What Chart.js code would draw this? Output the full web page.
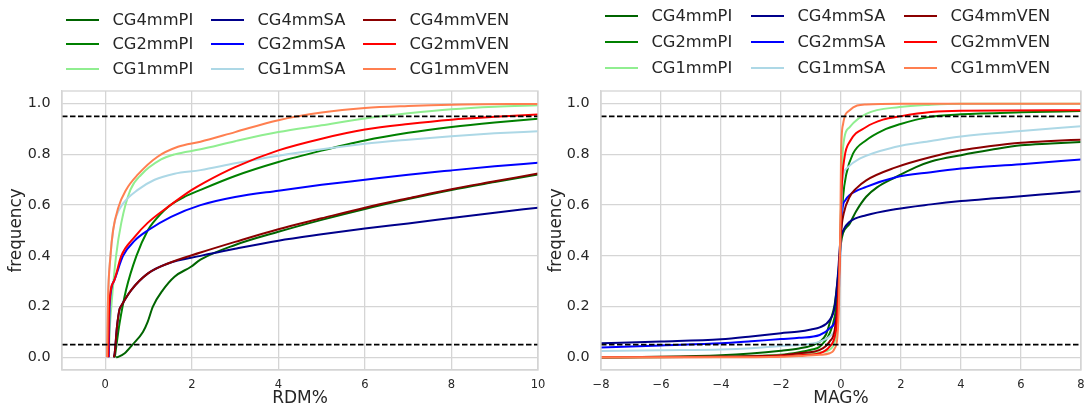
<!DOCTYPE html>
<html>
<head>
<meta charset="utf-8">
<script src="https://cdn.jsdelivr.net/npm/chart.js@4/dist/chart.umd.min.js"></script>
<style>
  body { margin: 0; width: 1091px; height: 413px; background: #fff; position: relative; overflow: hidden; font-family: 'DejaVu Sans', sans-serif; }
  .wrap { position: absolute; top: 0; height: 413px; }
  .leg-item { position: absolute; display: flex; align-items: center; height: 20px; white-space: nowrap; }
  .leg-line { width: 33px; height: 2px; }
  .leg-text { position: absolute; font-size: 16.3px; color: #262626; line-height: 20px; }
</style>
</head>
<body>
<div class="wrap" style="left:0;width:545px"><canvas id="rdmChart" width="545" height="413"></canvas></div>
<div class="wrap" style="left:545px;width:546px"><canvas id="magChart" width="546" height="413"></canvas></div>
<div id="legends"></div>
<script>
// series names and colours, in plotting order
const seriesNames = ['CG4mmPI', 'CG2mmPI', 'CG1mmPI', 'CG4mmSA', 'CG2mmSA', 'CG1mmSA', 'CG4mmVEN', 'CG2mmVEN', 'CG1mmVEN'];
const seriesColors = ['#006400', '#008000', '#90ee90', '#00008b', '#0000ff', '#add8e6', '#8b0000', '#ff0000', '#ff7f50'];

// reference lines
const hLines = [0.05, 0.95];

// tick labels
const yTicks = [0, 0.2, 0.4, 0.6, 0.8, 1.0];
const yTickLabels = ['0.0', '0.2', '0.4', '0.6', '0.8', '1.0'];
const rdmXTicks = [0, 2, 4, 6, 8, 10];
const rdmXTickLabels = ['0', '2', '4', '6', '8', '10'];
const magXTicks = [-8, -6, -4, -2, 0, 2, 4, 6, 8];
const magXTickLabels = ['\u22128', '\u22126', '\u22124', '\u22122', '0', '2', '4', '6', '8'];

// RDM% cumulative frequency, [x, y]
const rdm_CG4mmPI = [[0.25,0],[0.3,0.002],[0.45,0.016],[0.63,0.05],[0.87,0.1],[0.98,0.14],[1.1,0.2],[1.33,0.265],[1.6,0.318],[1.98,0.357],[2.2,0.385],[3,0.443],[4,0.495],[5,0.542],[6,0.585],[7,0.624],[8,0.66],[9,0.691],[10,0.721]];
const rdm_CG2mmPI = [[0.22,0],[0.3,0.1],[0.33,0.134],[0.48,0.265],[0.72,0.4],[0.98,0.5],[1.1,0.53],[1.45,0.593],[1.8,0.63],[2.2,0.66],[3,0.715],[4,0.77],[5,0.815],[6,0.855],[7,0.885],[8,0.908],[9,0.926],[10,0.941]];
const rdm_CG1mmPI = [[0.08,0],[0.1,0.1],[0.14,0.2],[0.25,0.4],[0.37,0.53],[0.58,0.66],[0.83,0.72],[1.29,0.78],[1.6,0.8],[2.2,0.82],[3,0.852],[4,0.888],[5,0.915],[6,0.942],[7,0.962],[8,0.978],[9,0.988],[10,0.994]];
const rdm_CG4mmSA = [[0.2,0],[0.22,0.02],[0.27,0.12],[0.33,0.19],[0.36,0.2],[0.6,0.265],[0.98,0.33],[1.45,0.37],[2.2,0.4],[3,0.428],[4,0.46],[5,0.485],[6,0.508],[7,0.528],[8,0.549],[9,0.57],[10,0.59]];
const rdm_CG2mmSA = [[0.08,0],[0.1,0.2],[0.2,0.3],[0.41,0.4],[0.68,0.46],[0.98,0.5],[1.52,0.554],[2.2,0.6],[3,0.632],[4,0.657],[5,0.68],[6,0.7],[7,0.72],[8,0.737],[9,0.753],[10,0.767]];
const rdm_CG1mmSA = [[0.04,0],[0.05,0.1],[0.06,0.21],[0.12,0.4],[0.18,0.5],[0.25,0.554],[0.41,0.606],[0.75,0.66],[1.14,0.7],[1.6,0.724],[2.2,0.738],[3,0.765],[4,0.795],[5,0.82],[6,0.842],[7,0.858],[8,0.872],[9,0.883],[10,0.891]];
const rdm_CG4mmVEN = [[0.2,0],[0.22,0.02],[0.27,0.12],[0.33,0.19],[0.36,0.2],[0.6,0.265],[0.98,0.33],[1.45,0.37],[2.2,0.413],[3,0.455],[4,0.505],[5,0.548],[6,0.59],[7,0.627],[8,0.663],[9,0.694],[10,0.725]];
const rdm_CG2mmVEN = [[0.07,0],[0.09,0.2],[0.2,0.3],[0.37,0.4],[0.68,0.475],[0.98,0.53],[1.45,0.593],[2,0.66],[2.3,0.69],[3,0.75],[4,0.816],[5,0.862],[6,0.898],[7,0.92],[8,0.937],[9,0.948],[10,0.957]];
const rdm_CG1mmVEN = [[0.04,0],[0.05,0.1],[0.06,0.21],[0.12,0.4],[0.18,0.5],[0.3,0.59],[0.48,0.66],[0.75,0.72],[1.2,0.79],[1.68,0.83],[2.2,0.85],[3,0.888],[4,0.935],[5,0.965],[6,0.983],[7,0.991],[8,0.996],[10,0.999]];

// MAG% cumulative frequency, [x, y]
const mag_CG4mmPI = [[-8,0],[-6,0.002],[-4,0.008],[-3,0.015],[-2,0.026],[-1.4,0.035],[-1,0.045],[-0.7,0.062],[-0.5,0.09],[-0.38,0.134],[-0.21,0.21],[-0.1,0.318],[0,0.45],[0.07,0.49],[0.29,0.527],[0.5,0.575],[0.84,0.633],[1.2,0.67],[1.8,0.709],[2.5,0.75],[3,0.772],[4,0.797],[5,0.818],[6,0.836],[7,0.843],[8,0.849]];
const mag_CG2mmPI = [[-8,0],[-4,0.003],[-2,0.01],[-1.4,0.02],[-1,0.03],[-0.71,0.042],[-0.38,0.094],[-0.21,0.16],[-0.1,0.265],[-0.02,0.45],[0.07,0.633],[0.18,0.724],[0.4,0.803],[0.84,0.856],[1.4,0.895],[1.96,0.919],[2.9,0.947],[4,0.958],[6,0.966],[8,0.971]];
const mag_CG1mmPI = [[-8,0],[-4,0.002],[-2,0.008],[-1.4,0.012],[-0.71,0.02],[-0.38,0.03],[-0.21,0.062],[-0.12,0.13],[-0.04,0.4],[0.01,0.66],[0.07,0.83],[0.29,0.908],[0.84,0.96],[1.96,0.987],[3,0.996],[4,1.0],[8,1.0]];
const mag_CG4mmSA = [[-8,0.055],[-6,0.062],[-4,0.071],[-3,0.082],[-2,0.095],[-1.4,0.102],[-1,0.11],[-0.71,0.118],[-0.38,0.147],[-0.21,0.2],[-0.1,0.33],[-0.02,0.46],[0.07,0.5],[0.29,0.534],[0.84,0.56],[1.8,0.584],[3,0.603],[4,0.616],[5,0.626],[6,0.635],[7,0.645],[8,0.655]];
const mag_CG2mmSA = [[-8,0.039],[-6,0.047],[-4,0.055],[-3,0.063],[-2,0.072],[-1.4,0.077],[-0.71,0.088],[-0.38,0.114],[-0.16,0.16],[-0.07,0.265],[0,0.5],[0.04,0.58],[0.15,0.62],[0.29,0.64],[0.84,0.672],[1.8,0.709],[3,0.73],[4,0.744],[6,0.761],[8,0.78]];
const mag_CG1mmSA = [[-8,0.025],[-6,0.028],[-4,0.031],[-3,0.036],[-2,0.045],[-1.4,0.049],[-0.71,0.062],[-0.27,0.094],[-0.1,0.16],[-0.02,0.4],[0.04,0.685],[0.18,0.744],[0.62,0.783],[1.8,0.829],[3,0.853],[4,0.871],[6,0.892],[8,0.911]];
const mag_CG4mmVEN = [[-8,0],[-4,0.003],[-2,0.008],[-1.4,0.016],[-0.71,0.029],[-0.38,0.062],[-0.21,0.108],[-0.1,0.24],[0,0.49],[0.09,0.567],[0.29,0.633],[0.5,0.665],[0.84,0.698],[1.8,0.748],[3,0.79],[4,0.816],[5,0.833],[6,0.846],[7,0.853],[8,0.858]];
const mag_CG2mmVEN = [[-8,0],[-4,0.001],[-2,0.004],[-1.4,0.008],[-0.71,0.016],[-0.38,0.042],[-0.21,0.081],[-0.12,0.16],[-0.04,0.4],[0.02,0.66],[0.12,0.79],[0.29,0.85],[0.84,0.908],[1.4,0.937],[1.96,0.95],[3,0.967],[4,0.972],[8,0.974]];
const mag_CG1mmVEN = [[-8,0],[-4,0],[-2,0.002],[-1.4,0.005],[-0.71,0.01],[-0.38,0.016],[-0.21,0.035],[-0.12,0.08],[-0.07,0.2],[-0.02,0.53],[0,0.79],[0.07,0.92],[0.29,0.974],[0.84,0.997],[2,1.0],[8,1.0]];

const rdmSeries = [rdm_CG4mmPI, rdm_CG2mmPI, rdm_CG1mmPI, rdm_CG4mmSA, rdm_CG2mmSA, rdm_CG1mmSA, rdm_CG4mmVEN, rdm_CG2mmVEN, rdm_CG1mmVEN];
const magSeries = [mag_CG4mmPI, mag_CG2mmPI, mag_CG1mmPI, mag_CG4mmSA, mag_CG2mmSA, mag_CG1mmSA, mag_CG4mmVEN, mag_CG2mmVEN, mag_CG1mmVEN];

const FONT = "'DejaVu Sans', sans-serif";
const TEXT = '#262626';
const GRID = '#d5d5d5';

// light grey box round the plot area, like the seaborn spines
const frame = {
    id: 'frame',
    afterDatasetsDraw(chart) {
        const a = chart.chartArea, ctx = chart.ctx;
        ctx.save();
        ctx.strokeStyle = GRID;
        ctx.lineWidth = 1.3;
        ctx.strokeRect(a.left, a.top, a.right - a.left, a.bottom - a.top);
        ctx.restore();
    }
};

function makeChart(canvasId, series, xMin, xMax, xTicks, xTickLabels, xTitle, yAxisWidth, yTitlePad, rightPad) {
    const datasets = series.map((pts, i) => ({
        label: seriesNames[i],
        data: pts.map(p => ({ x: p[0], y: p[1] })),
        borderColor: seriesColors[i],
        borderWidth: 2,
        pointRadius: 0,
        showLine: true,
        fill: false,
        cubicInterpolationMode: 'monotone'
    }));
    hLines.forEach(v => datasets.push({
        label: 'h' + v,
        data: [{ x: xMin, y: v }, { x: xMax, y: v }],
        borderColor: '#000',
        borderWidth: 1.6,
        borderDash: [5.5, 2.5],
        pointRadius: 0,
        showLine: true
    }));
    // chart.js paints dataset 0 last, so reverse to keep later series on top
    datasets.reverse();

    return new Chart(document.getElementById(canvasId).getContext('2d'), {
        type: 'scatter',
        data: { datasets: datasets },
        options: {
            responsive: false,
            animation: false,
            layout: { padding: { top: 91, right: rightPad, bottom: 0, left: 0 } },
            plugins: { legend: { display: false }, tooltip: { enabled: false } },
            scales: {
                x: {
                    type: 'linear',
                    min: xMin, max: xMax,
                    afterBuildTicks: s => { s.ticks = xTicks.map(v => ({ value: v })); },
                    afterFit: s => { s.height = 43; s.paddingLeft = 0; s.paddingRight = 0; },
                    ticks: {
                        padding: 8,
                        color: TEXT,
                        font: { family: FONT, size: 11.5 },
                        maxRotation: 0,
                        callback: (v, i) => xTickLabels[i]
                    },
                    grid: { color: GRID, lineWidth: 1.3, drawTicks: false },
                    border: { color: GRID, width: 1.3 },
                    title: { display: true, text: xTitle, color: TEXT, font: { family: FONT, size: 17 }, padding: { top: 0, bottom: 3.8 } }
                },
                y: {
                    min: -0.05, max: 1.05,
                    afterBuildTicks: s => { s.ticks = yTicks.map(v => ({ value: v })); },
                    afterFit: s => { s.width = yAxisWidth; s.paddingTop = 0; s.paddingBottom = 0; },
                    ticks: {
                        padding: 11.5,
                        color: TEXT,
                        font: { family: FONT, size: 14.3 },
                        callback: (v, i) => yTickLabels[i]
                    },
                    grid: { color: GRID, lineWidth: 1.3, drawTicks: false },
                    border: { color: GRID, width: 1.3 },
                    title: { display: true, text: 'frequency', color: TEXT, font: { family: FONT, size: 16.8 }, padding: { top: yTitlePad, bottom: 0 } }
                }
            }
        },
        plugins: [frame]
    });
}

makeChart('rdmChart', rdmSeries, -1, 10, rdmXTicks, rdmXTickLabels, 'RDM%', 62, 7, 7);
makeChart('magChart', magSeries, -8, 8, magXTicks, magXTickLabels, 'MAG%', 56, 1.6, 10);

// three-column legends above each plot (filled column by column)
function buildLegend(colLefts, rowMids) {
    const box = document.getElementById('legends');
    seriesNames.forEach((name, i) => {
        const col = Math.floor(i / 3), row = i % 3;
        const item = document.createElement('div');
        item.className = 'leg-item';
        item.style.left = colLefts[col] + 'px';
        item.style.top = (rowMids[row] - 10) + 'px';
        const line = document.createElement('div');
        line.className = 'leg-line';
        line.style.background = seriesColors[i];
        const txt = document.createElement('span');
        txt.className = 'leg-text';
        txt.style.left = '46.5px';
        txt.textContent = name;
        item.appendChild(line);
        item.appendChild(txt);
        box.appendChild(item);
    });
}
buildLegend([66, 211, 363], [19.5, 44, 69]);
buildLegend([605, 751, 904], [16, 42, 67.5]);
</script>
</body>
</html>
